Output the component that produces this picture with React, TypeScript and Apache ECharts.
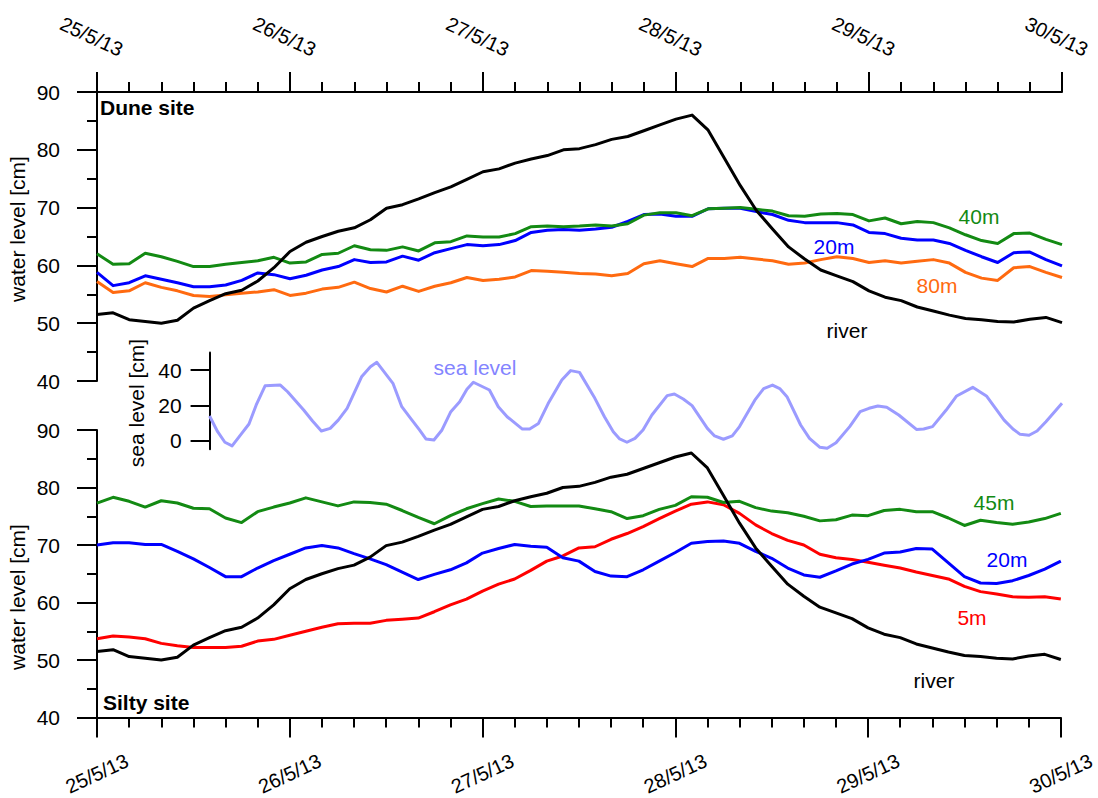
import React, { useEffect, useRef } from "react";
import * as echarts from "echarts";

const dateLabels = ["25/5/13", "26/5/13", "27/5/13", "28/5/13", "29/5/13", "30/5/13"];

// hours since 25/5/13 00:00
const hours = [
  0, 2, 4, 6, 8, 10, 12, 14, 16, 18, 20, 22, 24, 26, 28, 30, 32, 34, 36, 38,
  40, 42, 44, 46, 48, 50, 52, 54, 56, 58, 60, 62, 64, 66, 68, 70, 72, 74, 76, 78,
  80, 82, 84, 86, 88, 90, 92, 94, 96, 98, 100, 102, 104, 106, 108, 110, 112, 114, 116, 118, 120,
];

const river = [
  51.5, 51.8, 50.6, 50.3, 50.0, 50.5, 52.6, 53.9, 55.1, 55.7, 57.3, 59.6, 62.4, 64.0, 65.0, 65.9, 66.5, 67.9, 69.9, 70.5,
  71.5, 72.6, 73.6, 74.9, 76.2, 76.7, 77.7, 78.4, 79.0, 80.0, 80.2, 80.9, 81.8, 82.3, 83.3, 84.3, 85.3, 86.0, 83.4, 78.6,
  73.8, 69.5, 66.3, 63.2, 61.1, 59.2, 58.2, 57.2, 55.6, 54.5, 53.9, 52.8, 52.1, 51.4, 50.8, 50.6, 50.3, 50.2, 50.7, 51.0, 50.1,
];

const dune40 = [
  62.0, 60.2, 60.3, 62.1, 61.5, 60.7, 59.8, 59.8, 60.2, 60.5, 60.8, 61.4, 60.4, 60.6, 61.9, 62.1, 63.4, 62.7, 62.6, 63.2,
  62.5, 63.9, 64.1, 65.1, 64.9, 64.9, 65.5, 66.7, 66.8, 66.7, 66.8, 67.0, 66.8, 67.2, 68.7, 69.1, 69.1, 68.6, 69.8, 69.9,
  70.0, 69.7, 69.4, 68.6, 68.5, 68.9, 69.0, 68.8, 67.7, 68.2, 67.2, 67.6, 67.4, 66.5, 65.3, 64.3, 63.8, 65.5, 65.6, 64.5, 63.6,
];

const dune20 = [
  58.8, 56.5, 57.0, 58.2, 57.6, 57.0, 56.3, 56.3, 56.6, 57.4, 58.7, 58.4, 57.7, 58.3, 59.2, 59.8, 61.0, 60.5, 60.6, 61.6,
  60.9, 62.2, 62.9, 63.6, 63.4, 63.6, 64.3, 65.7, 66.1, 66.2, 66.1, 66.3, 66.6, 67.6, 68.8, 68.9, 68.5, 68.5, 69.8, 69.9,
  69.9, 69.3, 68.8, 67.8, 67.4, 67.4, 67.4, 67.0, 65.7, 65.5, 64.7, 64.4, 64.4, 63.8, 62.6, 61.5, 60.5, 62.2, 62.3, 61.0, 59.9,
];

const dune80 = [
  57.2, 55.3, 55.6, 57.0, 56.2, 55.6, 54.8, 54.6, 54.9, 55.2, 55.4, 55.8, 54.8, 55.2, 55.9, 56.2, 57.1, 56.0, 55.4, 56.4,
  55.5, 56.4, 57.0, 57.9, 57.4, 57.6, 58.0, 59.1, 59.0, 58.8, 58.6, 58.5, 58.2, 58.6, 60.3, 60.8, 60.3, 59.8, 61.2, 61.2,
  61.4, 61.1, 60.8, 60.2, 60.4, 61.0, 61.5, 61.2, 60.5, 60.8, 60.4, 60.7, 61.0, 60.4, 58.8, 57.8, 57.4, 59.6, 59.8, 58.8, 57.9,
];

const silty45 = [
  77.3, 78.3, 77.6, 76.6, 77.7, 77.3, 76.4, 76.3, 74.7, 73.9, 75.8, 76.6, 77.3, 78.2, 77.5, 76.8, 77.5, 77.4, 77.1, 76.0,
  74.8, 73.7, 75.1, 76.3, 77.2, 78.0, 77.6, 76.7, 76.8, 76.8, 76.8, 76.3, 75.8, 74.6, 75.1, 76.2, 76.9, 78.4, 78.3, 77.4,
  77.6, 76.5, 75.9, 75.6, 75.0, 74.2, 74.4, 75.2, 75.1, 76.0, 76.2, 75.8, 75.8, 74.7, 73.4, 74.3, 73.9, 73.6, 74.0, 74.6, 75.5,
];

const silty20 = [
  70.0, 70.4, 70.4, 70.1, 70.1, 68.9, 67.6, 66.1, 64.5, 64.5, 66.0, 67.3, 68.4, 69.5, 69.9, 69.5, 68.5, 67.6, 66.6, 65.3,
  64.0, 64.9, 65.7, 66.9, 68.6, 69.4, 70.1, 69.8, 69.6, 67.8, 67.2, 65.4, 64.6, 64.5, 65.7, 67.2, 68.7, 70.3, 70.6, 70.7,
  70.3, 68.9, 67.7, 66.0, 64.8, 64.4, 65.5, 66.7, 67.5, 68.6, 68.8, 69.4, 69.3, 66.9, 64.5, 63.4, 63.3, 63.8, 64.7, 65.8, 67.2,
];

const silty5 = [
  53.7, 54.2, 54.0, 53.7, 52.9, 52.5, 52.2, 52.2, 52.2, 52.4, 53.3, 53.6, 54.3, 55.0, 55.7, 56.3, 56.4, 56.4, 56.9, 57.1,
  57.3, 58.4, 59.6, 60.6, 62.0, 63.2, 64.1, 65.6, 67.2, 68.1, 69.5, 69.7, 71.0, 72.0, 73.2, 74.6, 75.9, 77.1, 77.5, 77.0,
  75.5, 73.5, 72.0, 70.8, 70.0, 68.4, 67.8, 67.5, 67.0, 66.5, 66.0, 65.3, 64.7, 64.1, 62.8, 61.9, 61.5, 61.0, 60.9, 61.0, 60.6,
];

const seaHours = [
  14.0, 15.0, 15.9, 16.8, 18.0, 18.9, 19.8, 20.9, 22.8, 23.7,
  25.7, 26.8, 27.9, 29.0, 30.0, 31.1, 32.9, 34.0, 34.8, 36.8,
  37.9, 39.0, 40.1, 40.9, 41.9, 42.9, 44.0, 45.1, 46.0, 46.8,
  48.8, 49.9, 51.0, 52.9, 53.8, 54.9, 56.1, 57.8, 58.9, 60.0,
  61.8, 63.1, 64.2, 65.0, 65.9, 66.9, 67.9, 69.0, 70.9, 71.8,
  72.9, 74.0, 75.9, 76.8, 77.9, 79.0, 79.9, 81.8, 82.9, 84.0,
  84.9, 85.8, 87.5, 88.6, 89.9, 90.8, 91.9, 93.6, 94.9, 96.0,
  97.1, 98.2, 99.7, 101.9, 102.8, 103.9, 105.6, 106.9, 108.9, 110.6,
  112.8, 113.9, 114.8, 115.9, 116.9, 118.0, 120.0,
];

const seaLevel = [
  13.9, 5.0, -1.0, -3.1, 4.1, 9.4, 20.2, 31.1, 31.5, 27.7,
  17.3, 11.1, 5.4, 6.9, 11.6, 18.3, 36.2, 41.9, 44.4, 32.5,
  19.2, 12.6, 6.0, 0.9, 0.3, 6.0, 16.4, 22.0, 29.1, 33.1,
  28.7, 19.2, 13.5, 6.5, 6.5, 9.7, 21.0, 34.4, 39.7, 38.7,
  24.9, 13.5, 5.0, 0.9, -1.0, 1.2, 6.0, 14.5, 25.5, 26.4,
  23.6, 19.8, 6.9, 2.6, 0.7, 2.6, 7.9, 22.9, 29.5, 31.5,
  29.5, 24.9, 8.8, 1.2, -3.9, -4.4, -1.3, 7.9, 16.4, 18.3,
  19.6, 18.9, 14.5, 6.3, 6.5, 7.9, 17.3, 25.3, 30.2, 25.3,
  11.6, 6.5, 3.5, 3.0, 5.4, 10.7, 21.1,
];

const FONT = "'Liberation Sans', Arial, sans-serif";
const FS = 21;
const BLACK = "#000000";
const GREEN = "#138a13";
const BLUE = "#0000ff";
const ORANGE = "#ff6a10";
const RED = "#ff0000";
const SEA = "#9b9bff";
const SEA_TEXT = "#8484ff";

const axisLineStyle = { color: BLACK, width: 2 };

function xAxisMain(gridIndex: number, position: "top" | "bottom") {
  const top = position === "top";
  return {
    type: "value",
    gridIndex,
    position,
    min: 0,
    max: 120,
    interval: 24,
    axisLine: { show: true, onZero: false, lineStyle: axisLineStyle },
    axisTick: { show: true, length: 20, lineStyle: axisLineStyle },
    minorTick: { show: true, splitNumber: 6, length: 10, lineStyle: axisLineStyle },
    splitLine: { show: false },
    minorSplitLine: { show: false },
    axisLabel: {
      show: true,
      formatter: (v: number) => dateLabels[Math.round(v / 24)] ?? "",
      rotate: 25,
      align: "center",
      verticalAlign: "middle",
      margin: top ? 53 : 56,
      padding: top ? [0, 12, 0, 0] : [0, 0, 0, 0],
      fontSize: 20,
      color: BLACK,
      fontFamily: FONT,
      showMinLabel: true,
      showMaxLabel: true,
    },
  };
}

function yAxisMain(gridIndex: number) {
  return {
    type: "value",
    gridIndex,
    min: 40,
    max: 90,
    interval: 10,
    axisLine: { show: true, onZero: false, lineStyle: axisLineStyle },
    axisTick: { show: true, length: 20, lineStyle: axisLineStyle },
    minorTick: { show: true, splitNumber: 2, length: 10, lineStyle: axisLineStyle },
    splitLine: { show: false },
    minorSplitLine: { show: false },
    axisLabel: { margin: 37, fontSize: FS, color: BLACK, fontFamily: FONT },
  };
}

function line(data: number[], color: string, gi: number, width = 3, z = 2) {
  return {
    type: "line",
    xAxisIndex: gi,
    yAxisIndex: gi,
    data: hours.map((h, i) => [h, data[i]]),
    symbol: "none",
    showSymbol: false,
    silent: true,
    z,
    lineStyle: { color, width, join: "round" },
    itemStyle: { color },
  };
}

function label(text: string, x: number, y: number, color: string, bold = false, rotation = 0) {
  return {
    type: "text",
    x,
    y,
    rotation,
    silent: true,
    style: {
      text,
      fill: color,
      font: `${bold ? "bold " : ""}${FS}px ${FONT}`,
      align: bold ? "left" : "center",
      verticalAlign: "middle",
    },
  };
}

export default function App() {
  const ref = useRef<HTMLDivElement>(null);
  useEffect(() => {
    const chart = echarts.init(ref.current!, null, { renderer: "svg" });
    const seaLeft = 97 + (14 * 965) / 120;
    chart.setOption({
      animation: false,
      backgroundColor: "#ffffff",
      grid: [
        { left: 97, top: 92, width: 965, height: 289 },
        { left: 97, top: 430, width: 965, height: 289 },
        { left: seaLeft, top: 352.5, width: 1062 - seaLeft, height: 96.8 },
      ],
      xAxis: [
        xAxisMain(0, "top"),
        xAxisMain(1, "bottom"),
        { type: "value", gridIndex: 2, min: 14, max: 120, show: false },
      ],
      yAxis: [
        yAxisMain(0),
        yAxisMain(1),
        {
          type: "value",
          gridIndex: 2,
          min: -5,
          max: 50,
          axisLine: { show: true, onZero: false, lineStyle: axisLineStyle },
          axisTick: { show: true, length: 19, customValues: [0, 20, 40], lineStyle: axisLineStyle },
          splitLine: { show: false },
          axisLabel: { margin: 28, fontSize: FS, color: BLACK, fontFamily: FONT, customValues: [0, 20, 40] },
        },
      ],
      series: [
        line(dune80, ORANGE, 0),
        line(dune20, BLUE, 0),
        line(dune40, GREEN, 0),
        line(river, BLACK, 0, 3, 3),
        line(silty5, RED, 1),
        line(silty20, BLUE, 1),
        line(silty45, GREEN, 1),
        line(river, BLACK, 1, 3, 3),
        {
          type: "line",
          xAxisIndex: 2,
          yAxisIndex: 2,
          data: seaHours.map((h, i) => [h, seaLevel[i]]),
          symbol: "none",
          showSymbol: false,
          silent: true,
          lineStyle: { color: SEA, width: 3, join: "round" },
          itemStyle: { color: SEA },
        },
      ],
      graphic: [
        label("water level [cm]", 17, 229, BLACK, false, Math.PI / 2),
        label("water level [cm]", 17, 597, BLACK, false, Math.PI / 2),
        label("sea level [cm]", 136, 403, BLACK, false, Math.PI / 2),
        label("Dune site", 100, 107, BLACK, true),
        label("Silty site", 103, 702, BLACK, true),
        label("40m", 979, 216, GREEN),
        label("20m", 834, 246, BLUE),
        label("80m", 937, 285, ORANGE),
        label("river", 847, 330, BLACK),
        label("sea level", 475, 367, SEA_TEXT),
        label("45m", 994, 502, GREEN),
        label("20m", 1007, 559, BLUE),
        label("5m", 972, 617, RED),
        label("river", 934, 680, BLACK),
      ],
    });
    return () => chart.dispose();
  }, []);
  return (
    <div
      ref={ref}
      style={{ position: "fixed", left: 0, top: 0, width: 1098, height: 798, background: "#ffffff" }}
    />
  );
}
